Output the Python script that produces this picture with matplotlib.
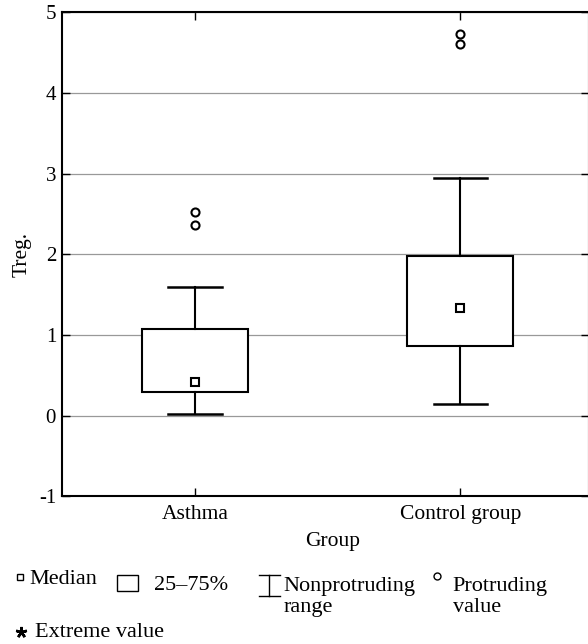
import matplotlib
matplotlib.use("Agg")
import matplotlib.pyplot as plt
from matplotlib.lines import Line2D
from matplotlib.patches import Rectangle

plt.rcParams["font.family"] = ["Liberation Serif", "DejaVu Serif"]

# values
groups = ["Asthma", "Control group"]
q1 = [0.30, 0.87]
q3 = [1.08, 1.98]
medians = [0.42, 1.34]
whislo = [0.025, 0.15]
whishi = [1.59, 2.95]
outliers = [[2.52, 2.36], [4.73, 4.61]]
yticks = [-1, 0, 1, 2, 3, 4, 5]

W, H = 588, 644
fig = plt.figure(figsize=(W / 100, H / 100), dpi=100)
ax = fig.add_axes([62.3 / W, 1 - 496.4 / H, (589 - 62.3) / W, (496.4 - 12.3) / H])

stats = []
for i in range(len(groups)):
    stats.append({"label": groups[i], "q1": q1[i], "q3": q3[i], "med": medians[i],
                  "mean": medians[i], "whislo": whislo[i], "whishi": whishi[i],
                  "fliers": outliers[i]})

ax.bxp(stats, positions=[1, 2], widths=0.4, capwidths=0.2, patch_artist=True,
       showmeans=True, manage_ticks=False,
       boxprops=dict(facecolor="white", edgecolor="black", linewidth=1.5),
       whiskerprops=dict(color="black", linewidth=1.5),
       capprops=dict(color="black", linewidth=1.8),
       medianprops=dict(linewidth=0),
       meanprops=dict(marker="s", markersize=6.2, markerfacecolor="white",
                      markeredgecolor="black", markeredgewidth=1.5),
       flierprops=dict(marker="o", markersize=5.8, markerfacecolor="none",
                       markeredgecolor="black", markeredgewidth=1.5))

ax.set_xlim(0.5, 2.485)
ax.set_ylim(-1, 5)
ax.set_yticks(yticks)
ax.set_yticklabels([str(t) for t in yticks])
ax.set_xticks([1, 2])
ax.set_xticklabels(groups)
ax.yaxis.grid(True, color="#999999", linewidth=0.9)
ax.set_axisbelow(True)
for s in ax.spines.values():
    s.set_linewidth(1.5)
ax.tick_params(axis="both", direction="in", length=5.5, width=1,
               top=True, right=True)
ax.tick_params(axis="y", labelsize=15, pad=4.5)
ax.tick_params(axis="x", labelsize=15.5, pad=6.5)
ax.set_ylabel("Treg.", fontsize=15.5, labelpad=5)
ax.set_xlabel("Group", fontsize=15.5)
ax.xaxis.set_label_coords(0.514, -0.073)


# legend below the chart, placed in figure pixels
def fx(px):
    return px / W


def fy(py):
    return 1 - py / H


tr = fig.transFigure
fs = 16
fig.add_artist(Line2D([fx(20)], [fy(577)], transform=tr, marker="s", markersize=5,
                      markerfacecolor="white", markeredgecolor="black", markeredgewidth=1))
fig.text(fx(29.3), fy(584), "Median", fontsize=fs, va="baseline")
fig.add_artist(Rectangle((fx(116.7), fy(590.7)), fx(21.6), 15.7 / H, transform=tr,
                         facecolor="white", edgecolor="black", linewidth=1))
fig.text(fx(154.3), fy(590.5), "25\u201375%", fontsize=fs, va="baseline")
fig.add_artist(Line2D([fx(269.3), fx(269.3)], [fy(575), fy(596)], transform=tr,
                      color="black", linewidth=1))
fig.add_artist(Line2D([fx(259.3), fx(280)], [fy(575), fy(575)], transform=tr,
                      color="black", linewidth=1))
fig.add_artist(Line2D([fx(259.3), fx(280)], [fy(596), fy(596)], transform=tr,
                      color="black", linewidth=1))
fig.text(fx(283.3), fy(590.7), "Nonprotruding", fontsize=fs, va="baseline")
fig.text(fx(283.3), fy(611.7), "range", fontsize=fs, va="baseline")
fig.add_artist(Line2D([fx(437)], [fy(576)], transform=tr, marker="o", markersize=5,
                      markerfacecolor="white", markeredgecolor="black", markeredgewidth=1))
fig.text(fx(452.7), fy(590.7), "Protruding", fontsize=fs, va="baseline")
fig.text(fx(452.7), fy(611.7), "value", fontsize=fs, va="baseline")
fig.add_artist(Line2D([fx(21)], [fy(632)], transform=tr, marker=(5, 2, 0), markersize=8,
                      color="black", markeredgewidth=1.8))
fig.text(fx(35), fy(636.7), "Extreme value", fontsize=fs, va="baseline")

fig.savefig("out.png", dpi=100)
